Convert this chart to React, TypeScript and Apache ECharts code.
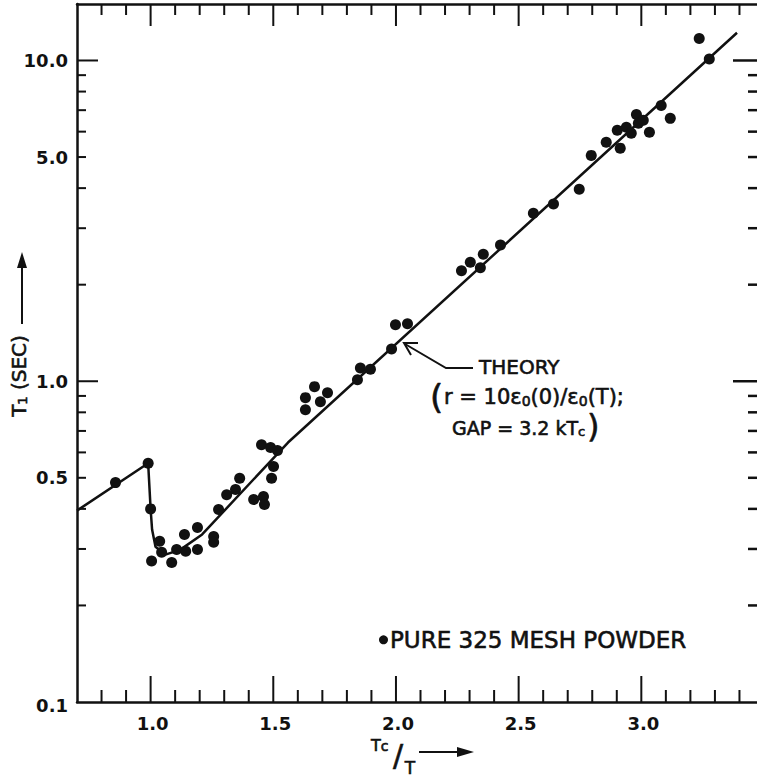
import React, { useEffect, useRef } from "react";
import * as echarts from "echarts";

// measured points: Tc/T and T1 (sec)
const tcOverT = [
  0.857, 0.99, 1.0, 1.037, 1.045, 1.004, 1.086, 1.106, 1.143, 1.138, 1.191, 1.191,
  1.257, 1.257, 1.277, 1.31, 1.346, 1.363, 1.452, 1.489, 1.517, 1.501, 1.493, 1.42,
  1.46, 1.464, 1.631, 1.668, 1.721, 1.692, 1.631, 1.843, 1.855, 1.896, 1.982, 1.998,
  2.047, 2.267, 2.303, 2.344, 2.356, 2.426, 2.56, 2.642, 2.747, 2.796, 2.857, 2.914,
  2.902, 2.939, 2.959, 2.98, 2.988, 3.008, 3.033, 3.081, 3.118, 3.236, 3.277,
];
const t1Sec = [
  0.483, 0.555, 0.4, 0.317, 0.293, 0.275, 0.272, 0.299, 0.295, 0.333, 0.35, 0.299,
  0.328, 0.315, 0.398, 0.443, 0.46, 0.498, 0.634, 0.621, 0.608, 0.542, 0.498, 0.428,
  0.437, 0.413, 0.889, 0.962, 0.92, 0.863, 0.815, 1.01, 1.1, 1.09, 1.26, 1.5,
  1.51, 2.21, 2.35, 2.26, 2.49, 2.66, 3.34, 3.57, 3.97, 5.06, 5.56, 5.33,
  6.06, 6.19, 5.93, 6.79, 6.37, 6.51, 5.97, 7.24, 6.6, 11.7, 10.1,
];

// theory curve
const theoryX = [0.7, 0.99, 1.0, 1.006, 1.02, 1.06, 1.12, 1.21, 1.56, 3.39];
const theoryY = [0.395, 0.555, 0.4, 0.345, 0.305, 0.288, 0.298, 0.333, 0.644, 12.2];

// axes
const X_MIN = 0.7;
const X_MAX = 3.5;
const Y_MIN = 0.1;
const Y_MAX = 15;
const xTickValues = [
  0.8, 0.9, 1.0, 1.1, 1.2, 1.3, 1.4, 1.5, 1.6, 1.7, 1.8, 1.9, 2.0, 2.1, 2.2, 2.3,
  2.4, 2.5, 2.6, 2.7, 2.8, 2.9, 3.0, 3.1, 3.2, 3.3, 3.4,
];
const xMajorTicks = [1.0, 1.5, 2.0, 2.5, 3.0];
const xLabelValues = [1.0, 1.5, 2.0, 2.5, 3.0];
const xTickLabels = ["1.0", "1.5", "2.0", "2.5", "3.0"];
const yTickValues = [
  0.2, 0.3, 0.4, 0.5, 0.6, 0.7, 0.8, 0.9, 1, 2, 3, 4, 5, 6, 7, 8, 9, 10,
];
const yMajorTicks = [1, 10];
const yLabelValues = [0.1, 0.5, 1, 5, 10];
const yTickLabels = ["0.1", "0.5", "1.0", "5.0", "10.0"];
const seriesName = "PURE 325 MESH POWDER";

const FONT = '"DejaVu Sans", sans-serif';
const INK = "#111";
const HEAVY = { stroke: INK, lineWidth: 0.6 };

export default function App() {
  const ref = useRef<HTMLDivElement>(null);

  useEffect(() => {
    if (!ref.current) return;
    const chart = echarts.init(ref.current, null, { renderer: "svg" });

    const points = tcOverT.map((x, i) => [x, t1Sec[i]]);
    const theory = theoryX.map((x, i) => [x, theoryY[i]]);

    const tickStyle = { stroke: INK, lineWidth: 2 };

    const option: any = {
      animation: false,
      backgroundColor: "#fff",
      grid: { left: 77, top: 4, width: 687, height: 698 },
      xAxis: [
        {
          type: "value", min: X_MIN, max: X_MAX, position: "bottom",
          axisLine: { show: true, lineStyle: { color: INK, width: 2.5 } },
          axisTick: { show: false }, axisLabel: { show: false }, splitLine: { show: false },
        },
        {
          type: "value", min: X_MIN, max: X_MAX, position: "top",
          axisLine: { show: true, lineStyle: { color: INK, width: 2.5 } },
          axisTick: { show: false }, axisLabel: { show: false }, splitLine: { show: false },
        },
      ],
      yAxis: [
        {
          type: "log", min: Y_MIN, max: Y_MAX, logBase: 10, position: "left",
          axisLine: { show: true, lineStyle: { color: INK, width: 2.5 } },
          axisTick: { show: false }, axisLabel: { show: false }, splitLine: { show: false },
          minorTick: { show: false }, minorSplitLine: { show: false },
        },
        {
          type: "log", min: Y_MIN, max: Y_MAX, logBase: 10, position: "right",
          axisLine: { show: true, lineStyle: { color: INK, width: 2.5 } },
          axisTick: { show: false }, axisLabel: { show: false }, splitLine: { show: false },
        },
      ],
      legend: {
        data: [seriesName],
        left: 379,
        top: 628,
        padding: 0,
        icon: "circle",
        itemWidth: 9,
        itemHeight: 9,
        itemStyle: { opacity: 1, color: INK },
        textStyle: {
          fontSize: 23,
          fontFamily: FONT,
          color: INK,
          padding: [0, 0, 0, -3],
          textBorderColor: INK,
          textBorderWidth: 0.6,
        },
      },
      series: [
        {
          type: "line",
          name: "THEORY",
          data: theory,
          showSymbol: false,
          symbol: "none",
          lineStyle: { color: INK, width: 2.5 },
          z: 2,
        },
        {
          type: "scatter",
          name: seriesName,
          data: points,
          symbol: "circle",
          symbolSize: 11,
          itemStyle: { color: INK, opacity: 1 },
          z: 3,
        },
        {
          type: "custom",
          name: "xticks",
          data: xTickValues.map((v) => [v, Y_MIN]),
          renderItem: (params: any, api: any) => {
            const v = api.value(0);
            const major = xMajorTicks.indexOf(v) >= 0;
            const b = api.coord([v, Y_MIN]);
            const t = api.coord([v, Y_MAX]);
            const lb = major ? 26 : 12;
            const lt = major ? 22 : 11;
            return {
              type: "group",
              children: [
                { type: "line", shape: { x1: b[0], y1: b[1], x2: b[0], y2: b[1] - lb }, style: tickStyle },
                { type: "line", shape: { x1: t[0], y1: t[1], x2: t[0], y2: t[1] + lt }, style: tickStyle },
              ],
            };
          },
          z: 4,
        },
        {
          type: "custom",
          name: "yticks",
          data: yTickValues.map((v) => [X_MIN, v]),
          renderItem: (params: any, api: any) => {
            const v = api.value(1);
            const major = yMajorTicks.indexOf(v) >= 0;
            const l = api.coord([X_MIN, v]);
            const r = api.coord([X_MAX, v]);
            const ll = major ? 21 : 9;
            const lr = major ? 31 : 16;
            return {
              type: "group",
              children: [
                { type: "line", shape: { x1: l[0], y1: l[1], x2: l[0] + ll, y2: l[1] }, style: tickStyle },
                { type: "line", shape: { x1: r[0], y1: r[1], x2: r[0] - lr, y2: r[1] }, style: { stroke: INK, lineWidth: 2.5 } },
              ],
            };
          },
          z: 4,
        },
        {
          type: "custom",
          name: "xlabels",
          data: xLabelValues.map((v) => [v, Y_MIN]),
          renderItem: (params: any, api: any) => {
            const b = api.coord([api.value(0), Y_MIN]);
            return {
              type: "text",
              x: b[0] + 2,
              y: b[1] + 21,
              style: {
                text: xTickLabels[params.dataIndex],
                align: "center",
                verticalAlign: "middle",
                fontSize: 18,
                fontWeight: "bold",
                fontFamily: FONT,
                fill: INK,
              },
            };
          },
        },
        {
          type: "custom",
          name: "ylabels",
          data: yLabelValues.map((v) => [X_MIN, v]),
          renderItem: (params: any, api: any) => {
            const l = api.coord([X_MIN, api.value(1)]);
            return {
              type: "text",
              x: l[0] - 9,
              y: l[1] + (params.dataIndex === 0 ? 3 : 0),
              style: {
                text: yTickLabels[params.dataIndex],
                align: "right",
                verticalAlign: "middle",
                fontSize: 18,
                fontWeight: "bold",
                fontFamily: FONT,
                fill: INK,
              },
            };
          },
        },
      ],
      graphic: [
        // y-axis title
        {
          type: "text",
          x: 19,
          y: 376,
          rotation: Math.PI / 2,
          style: {
            text: "{a|T}{s|1}{a| (SEC)}",
            align: "center",
            verticalAlign: "middle",
            fill: INK,
            rich: {
              a: { fontSize: 20, fontFamily: FONT, fill: INK, ...HEAVY },
              s: { fontSize: 13, fontFamily: FONT, fill: INK, verticalAlign: "bottom", ...HEAVY },
            },
          },
        },
        { type: "line", shape: { x1: 22, y1: 324, x2: 22, y2: 262 }, style: { stroke: INK, lineWidth: 2 } },
        { type: "polygon", shape: { points: [[22, 252], [17, 268], [27, 268]] }, style: { fill: INK } },
        // x-axis title
        {
          type: "text",
          x: 371,
          y: 745,
          style: {
            text: "{a|T}{s|c}",
            align: "left",
            verticalAlign: "middle",
            fill: INK,
            rich: {
              a: { fontSize: 16, fontFamily: FONT, fill: INK, ...HEAVY },
              s: { fontSize: 14, fontFamily: FONT, fill: INK, verticalAlign: "bottom", ...HEAVY },
            },
          },
        },
        {
          type: "text", x: 398, y: 755,
          style: { text: "/", align: "center", verticalAlign: "middle", fontSize: 30, fontFamily: FONT, fill: INK, ...HEAVY },
        },
        {
          type: "text", x: 410, y: 768,
          style: { text: "T", align: "center", verticalAlign: "middle", fontSize: 17, fontFamily: FONT, fill: INK, ...HEAVY },
        },
        { type: "line", shape: { x1: 419, y1: 752, x2: 460, y2: 752 }, style: { stroke: INK, lineWidth: 2 } },
        { type: "polygon", shape: { points: [[474, 752], [457, 747], [457, 757]] }, style: { fill: INK } },
        // theory annotation
        {
          type: "text", x: 479, y: 367,
          style: { text: "THEORY", align: "left", verticalAlign: "middle", fontSize: 20, fontFamily: FONT, fill: INK, ...HEAVY },
        },
        { type: "polyline", shape: { points: [[473, 368], [446, 368], [405, 344]] }, style: { stroke: INK, lineWidth: 2, fill: null } },
        { type: "polyline", shape: { points: [[418, 343], [404, 343], [411, 355]] }, style: { stroke: INK, lineWidth: 2, fill: null } },
        {
          type: "text", x: 430, y: 397,
          style: { text: "(", align: "left", verticalAlign: "middle", fontSize: 34, fontFamily: FONT, fill: INK, ...HEAVY },
        },
        {
          type: "text", x: 444, y: 397,
          style: {
            text: "{a|r = 10ε}{s|0}{a|(0)/ε}{s|0}{a|(T);}",
            align: "left",
            verticalAlign: "middle",
            fill: INK,
            rich: {
              a: { fontSize: 21, fontFamily: FONT, fill: INK, ...HEAVY },
              s: { fontSize: 14, fontFamily: FONT, fill: INK, verticalAlign: "bottom", ...HEAVY },
            },
          },
        },
        {
          type: "text", x: 452, y: 428,
          style: {
            text: "{a|GAP = 3.2 kT}{s|c}",
            align: "left",
            verticalAlign: "middle",
            fill: INK,
            rich: {
              a: { fontSize: 19, fontFamily: FONT, fill: INK, ...HEAVY },
              s: { fontSize: 13, fontFamily: FONT, fill: INK, verticalAlign: "bottom", ...HEAVY },
            },
          },
        },
        {
          type: "text", x: 587, y: 426,
          style: { text: ")", align: "left", verticalAlign: "middle", fontSize: 32, fontFamily: FONT, fill: INK, ...HEAVY },
        },
      ],
    };

    chart.setOption(option);
    return () => {
      chart.dispose();
    };
  }, []);

  return (
    <div
      style={{
        position: "fixed",
        left: 0,
        top: 0,
        width: 757,
        height: 779,
        overflow: "hidden",
        background: "#fff",
      }}
    >
      <div ref={ref} style={{ width: 775, height: 779 }} />
    </div>
  );
}
